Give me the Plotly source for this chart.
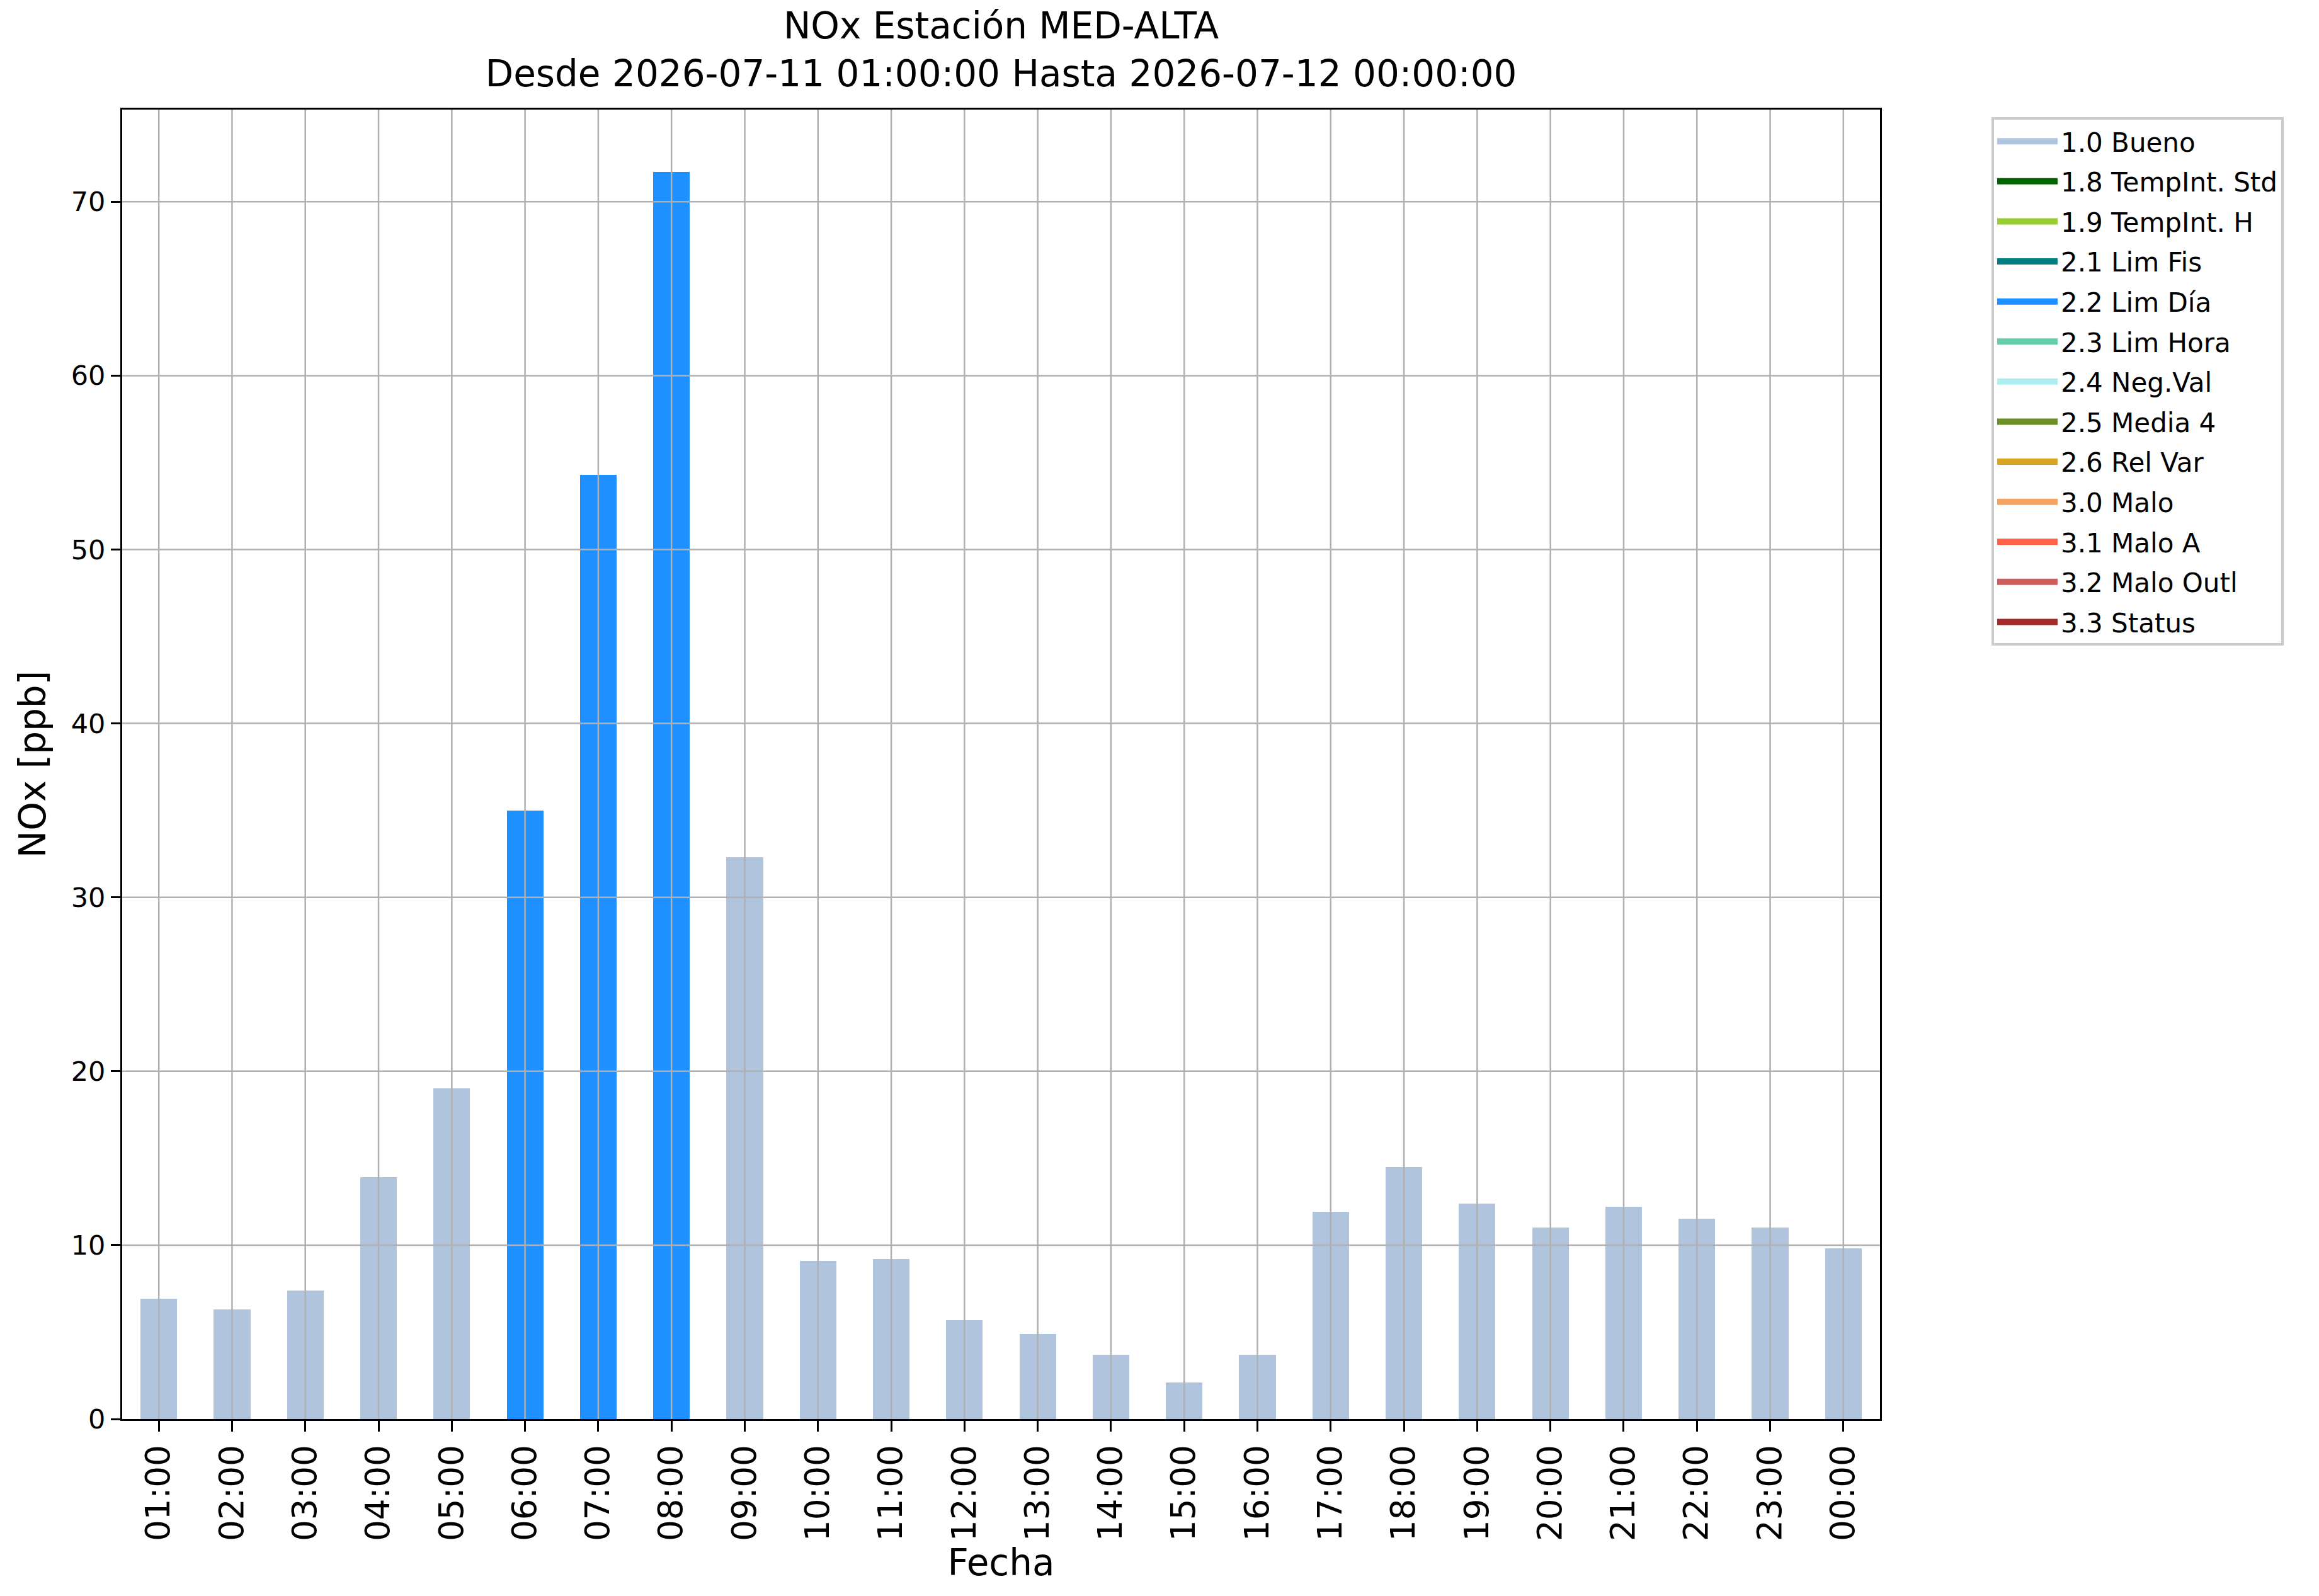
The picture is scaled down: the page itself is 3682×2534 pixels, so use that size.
import plotly.graph_objects as go

hours = ['01:00', '02:00', '03:00', '04:00', '05:00', '06:00', '07:00', '08:00',
         '09:00', '10:00', '11:00', '12:00', '13:00', '14:00', '15:00', '16:00',
         '17:00', '18:00', '19:00', '20:00', '21:00', '22:00', '23:00', '00:00']
nox = [6.9, 6.3, 7.4, 13.9, 19.0, 35.0, 54.3, 71.7,
       32.3, 9.1, 9.2, 5.7, 4.9, 3.7, 2.1, 3.7,
       11.9, 14.5, 12.4, 11.0, 12.2, 11.5, 11.0, 9.8]
flags = ['1.0 Bueno', '1.0 Bueno', '1.0 Bueno', '1.0 Bueno', '1.0 Bueno', '2.2 Lim Día', '2.2 Lim Día', '2.2 Lim Día',
         '1.0 Bueno', '1.0 Bueno', '1.0 Bueno', '1.0 Bueno', '1.0 Bueno', '1.0 Bueno', '1.0 Bueno', '1.0 Bueno',
         '1.0 Bueno', '1.0 Bueno', '1.0 Bueno', '1.0 Bueno', '1.0 Bueno', '1.0 Bueno', '1.0 Bueno', '1.0 Bueno']
categories = ['1.0 Bueno', '1.8 TempInt. Std', '1.9 TempInt. H', '2.1 Lim Fis', '2.2 Lim Día',
              '2.3 Lim Hora', '2.4 Neg.Val', '2.5 Media 4', '2.6 Rel Var', '3.0 Malo',
              '3.1 Malo A', '3.2 Malo Outl', '3.3 Status']
colors = ['lightsteelblue', 'darkgreen', 'yellowgreen', 'teal', 'dodgerblue',
          'mediumaquamarine', 'paleturquoise', 'olivedrab', 'goldenrod', 'sandybrown',
          'tomato', 'indianred', 'brown']
yticks = [0, 10, 20, 30, 40, 50, 60, 70]

font = 'DejaVu Sans'
fig = go.Figure()
for cat, col in zip(categories, colors):
    y = [v if f == cat else None for v, f in zip(nox, flags)]
    fig.add_trace(go.Bar(x=hours, y=y, name=cat, marker=dict(color=col, line=dict(width=0)),
                         width=0.5, showlegend=False, legendgroup=cat))
    # legend entry drawn as a thick line so the swatch looks like a patch
    fig.add_trace(go.Scatter(x=[None], y=[None], mode='lines', name=cat,
                             line=dict(color=col, width=29), legendgroup=cat))

# grid drawn over the bars, like matplotlib
grid = dict(color='#b0b0b0', width=2.5)
for h in hours:
    fig.add_shape(type='line', xref='x', yref='paper', x0=h, x1=h, y0=0, y1=1, line=grid, layer='above')
for t in yticks[1:]:
    fig.add_shape(type='line', xref='paper', yref='y', x0=0, x1=1, y0=t, y1=t, line=grid, layer='above')

fig.update_layout(
    width=3682, height=2534,
    margin=dict(l=186, r=705, t=166, b=289),
    paper_bgcolor='white', plot_bgcolor='white',
    barmode='stack', bargap=0,
    font=dict(family=font, color='black'),
    title=dict(text='NOx Estación MED-ALTA<br>Desde 2026-07-11 01:00:00 Hasta 2026-07-12 00:00:00',
               x=0.5, xref='paper', xanchor='center', y=0.979, yanchor='top',
               font=dict(size=58, family=font)),
    xaxis=dict(title=dict(text='Fecha', font=dict(size=58), standoff=0),
               tickangle=-90, tickfont=dict(size=53), showgrid=False,
               ticks='outside', ticklen=17, tickwidth=3, tickcolor='black',
               showline=True, linecolor='black', linewidth=3, mirror=True, layer='above traces'),
    yaxis=dict(title=dict(text='NOx [ppb]', font=dict(size=58), standoff=22),
               range=[0, 75.3], tickvals=yticks, tickfont=dict(size=43), showgrid=False,
               ticks='outside', ticklen=15, tickwidth=3, tickcolor='black', zeroline=False,
               showline=True, linecolor='black', linewidth=3, mirror=True, layer='above traces'),
    legend=dict(x=1.0634, y=0.994, xanchor='left', yanchor='top',
                bordercolor='#cccccc', borderwidth=4, bgcolor='white',
                font=dict(size=42, family=font), tracegroupgap=6, traceorder='grouped',
                itemwidth=96),
)

fig.write_html("out.html")
